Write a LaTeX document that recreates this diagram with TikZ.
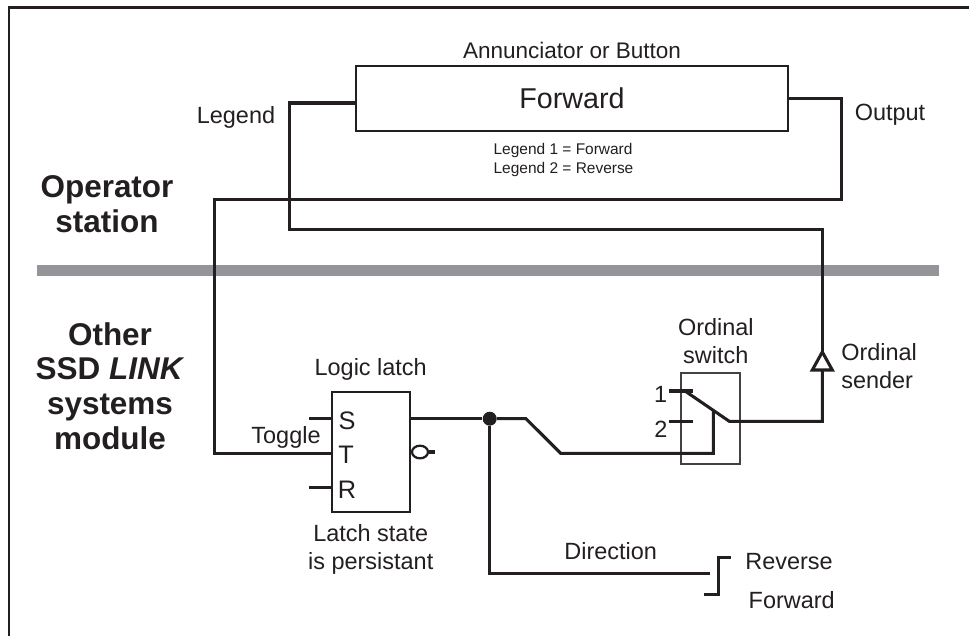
\documentclass[tikz,border=0pt]{standalone}
\usepackage{fontspec}
\setmainfont{Liberation Sans}
\usepackage{xcolor}
\usetikzlibrary{positioning,shapes.geometric}
\definecolor{ink}{HTML}{231F20}
\definecolor{barra}{HTML}{939598}

\begin{document}
\begin{tikzpicture}[
    x=0.75pt, y=-0.75pt,
    every node/.style={text=ink, inner sep=0pt},
    rotulo/.style={font=\fontsize{17.6}{21}\selectfont, align=center},
    pino/.style={font=\fontsize{19}{21}\selectfont},
    titulo/.style={font=\fontsize{23.6}{26}\selectfont\bfseries, align=center},
    nota/.style={font=\fontsize{11.6}{14.2}\selectfont, align=left},
    bloco/.style={draw=ink, line width=1.7pt, fill=white, inner sep=0pt},
    chave/.style={draw=ink!85, line width=1.2pt, inner sep=0pt},
    fio/.style={draw=ink, line width=2.3pt, line cap=butt, line join=miter},
    moldura/.style={draw=ink, line width=2pt}
]
    \useasboundingbox (0,0) rectangle (969,636);

    % frame and separator
    \coordinate (topright) at (969,7.5);
    \coordinate (topleft) at (9,7.5);
    \coordinate (bottomleft) at (9,636);
    \draw[moldura] (topright) -- (topleft) -- (bottomleft);
    \node[fill=barra, minimum width=676.5pt, minimum height=8.25pt] (separator) at (488,270.5) {};

    % operator station
    \node[bloco, minimum width=324pt, minimum height=48.3pt,
        font=\fontsize{21.5}{26}\selectfont] (forward) at (572,98.5) {Forward};
    \node[rotulo, above=4.5pt of forward, font=\fontsize{16.9}{21}\selectfont] (annunciator) {Annunciator or Button};
    \node[nota] (legendnote) at (563.5,160) {Legend 1 = Forward\\Legend 2 = Reverse};
    \node[rotulo] (legend) at (236,117) {Legend};
    \node[rotulo] (output) at (890,115) {Output};
    \node[titulo] (operator) at (107,204) {Operator\\station};
    \node[titulo] (other) at (110,386) {Other\\SSD \textit{LINK}\\systems\\module};

    % logic latch
    \node[bloco, minimum width=58.5pt, minimum height=90.2pt] (latch) at (370.7,452.2) {};
    \node[rotulo, above=8pt of latch] (latchname) {Logic latch};
    \node[rotulo, below=8pt of latch] (latchstate) {Latch state\\is persistant};
    \node[pino] (pins) at (347,421) {S};
    \node[pino] (pint) at (346,455) {T};
    \node[pino] (pinr) at (347,490) {R};
    \node[rotulo] (toggle) at (286,437) {Toggle};
    \node[draw=ink, line width=1.7pt, ellipse, minimum width=12pt, minimum height=9.5pt] (negado) at (420,452) {};
    \coordinate (negadoend) at (435,452);
    \coordinate (setend) at (309.3,418.7);
    \coordinate (setpin) at (331.7,418.7);
    \coordinate (resetend) at (309.3,487.3);
    \coordinate (resetpin) at (331.7,487.3);
    \coordinate (togglepin) at (331.7,453.3);
    \coordinate (latchout) at (409.7,418.7);
    \node[circle, fill=ink, minimum size=10.5pt] (junction) at (489.7,418.7) {};

    % ordinal switch
    \node[chave, minimum width=44.2pt, minimum height=68.2pt] (switchbox) at (710.5,418.5) {};
    \node[rotulo, above=6pt of switchbox, xshift=4pt] (switchname) {Ordinal\\switch};
    \node[rotulo] (one) at (660.7,394) {1};
    \node[rotulo] (two) at (661,429) {2};
    \coordinate (oneleft) at (669,391);
    \coordinate (oneright) at (693,391);
    \coordinate (twoleft) at (669,421.3);
    \coordinate (tworight) at (693,421.3);
    \coordinate (blade) at (685,391);
    \coordinate (bladeend) at (729.3,421.3);
    \coordinate (bladecontrol) at (713.3,410.4);
    \coordinate (senderbase) at (822.3,370);
    \coordinate (senderapex) at (822.3,352);
    \node[rotulo, align=left, anchor=west] (sender) at (841,366) {Ordinal\\sender};

    % direction
    \node[rotulo] (direction) at (610.7,551) {Direction};
    \node[rotulo] (reverse) at (789,562) {Reverse};
    \node[rotulo] (forwardout) at (791.7,600) {Forward};
    \coordinate (directionend) at (710,573.3);
    \coordinate (stephigh) at (730.7,557.3);
    \coordinate (steplow) at (704,594.3);

    % wires
    \draw[fio] (forward.east) -- (841.3,98.5) -- (841.3,199.3) -- (214.3,199.3) -- (214.3,453.3) -- (togglepin);
    \draw[fio] (forward.west |- 0,103) -- (289.7,103) -- (289.7,229.3) -- (822.3,229.3) -- (senderapex);
    \draw[fio] (senderbase) -- (822.3,421.3) -- (bladeend) -- (blade);
    \draw[fio] (setend) -- (setpin);
    \draw[fio] (resetend) -- (resetpin);
    \draw[fio] (latchout) -- (junction);
    \draw[fio] (negado) -- (negadoend);
    \draw[fio] (junction) -- (526,418.7) -- (560.7,453.3) -- (713.3,453.3) -- (bladecontrol);
    \draw[fio] (oneleft) -- (oneright);
    \draw[fio] (twoleft) -- (tworight);
    \draw[fio] (junction) |- (directionend);
    \draw[fio] (stephigh) -- (718.7,557.3) -- (718.7,594.3) -- (steplow);
    \draw[draw=ink, line width=2.3pt, fill=white] (senderapex) -- (812.3,370) -- (832.3,370) -- cycle;
\end{tikzpicture}
\end{document}
